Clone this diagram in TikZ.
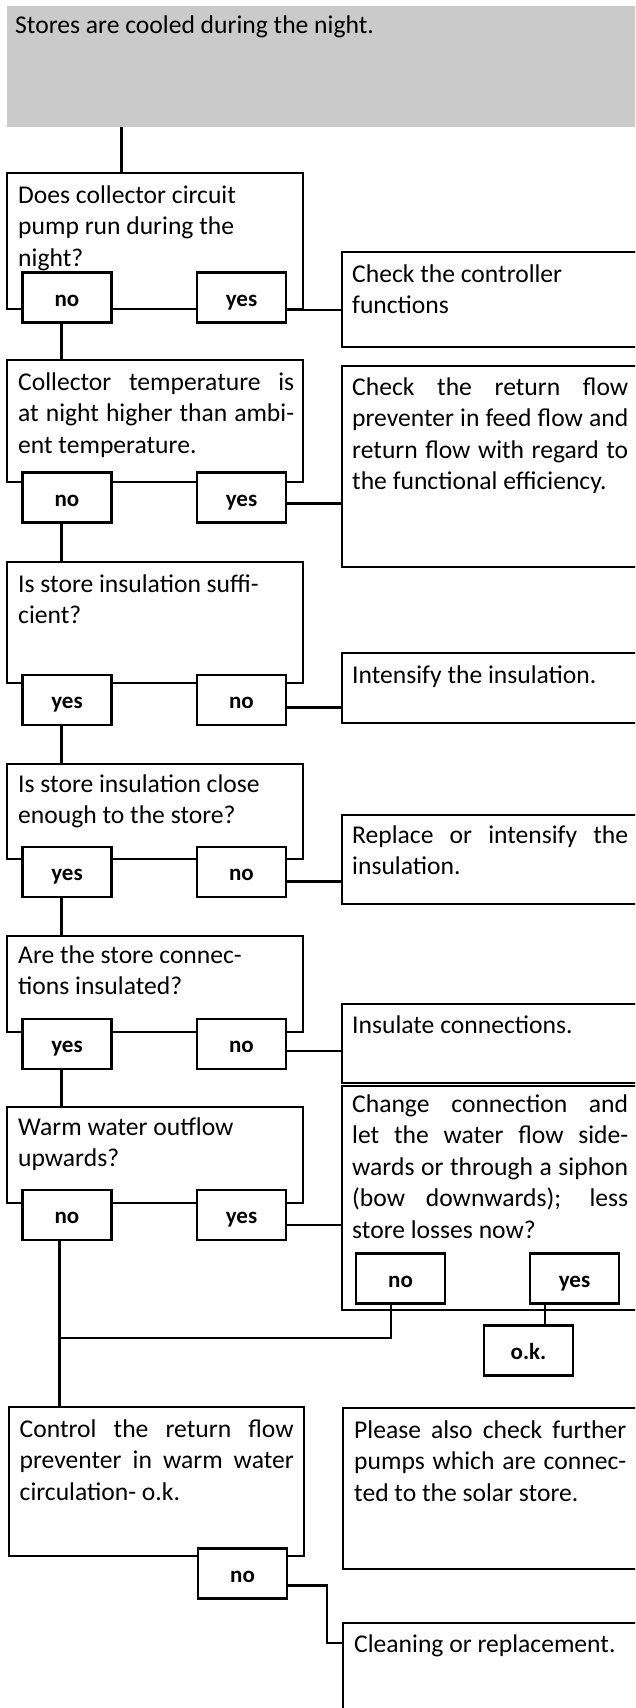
\documentclass[tikz,border=0pt]{standalone}
\usepackage{fontspec}
\setmainfont{Carlito}
\usetikzlibrary{fit}
\definecolor{hdrgray}{RGB}{202,202,202}
\newcommand\JL[2][276pt]{\makebox[#1][s]{#2}}
\newcommand\RL[1]{\mbox{#1}}
\newcommand\bodyfont{\fontsize{25.6}{31.5}\selectfont}
\newcommand\labfont{\fontsize{23}{26}\selectfont\bfseries}
\newcommand\tb[2][276pt]{\parbox[t]{#1}{#2}}
\begin{document}
\begin{tikzpicture}[x=1pt,y=-1pt,
  frame/.style={draw, line width=2.7pt, inner sep=0pt, rectangle},
  lab/.style={draw, fill=white, line width=2.7pt, inner sep=0pt, minimum width=89pt, minimum height=50pt, text height=17pt, text depth=0pt, font=\labfont},
  txt/.style={anchor=base west, inner sep=0pt, font=\bodyfont},
  conn/.style={line width=2.7pt},
]
\useasboundingbox (0,0) rectangle (635,1708);
\clip (0,0) rectangle (635,1708);

% header
\node[fill=hdrgray, inner sep=0pt, fit={(7,6)(645,127)}] (g) {};
\node[txt] (gt) at (15,33) {Stores are cooled during the night.};

% question frames
\node[frame, fit={(7,173)(303,309)}] (q1) {};
\node[frame, fit={(7,360)(303,482)}] (q2) {};
\node[frame, fit={(7,562)(303,683)}] (q3) {};
\node[frame, fit={(7,764)(303,859)}] (q4) {};
\node[frame, fit={(7,936)(303,1032)}] (q5) {};
\node[frame, fit={(7,1107)(303,1203)}] (q6) {};
\node[frame, fit={(9,1407)(304,1556)}] (q7) {};

% action frames
\node[frame, fit={(342,252)(645,347)}] (a1) {};
\node[frame, fit={(342,366)(645,567)}] (a2) {};
\node[frame, fit={(342,653)(645,723)}] (a3) {};
\node[frame, fit={(342,815)(645,904)}] (a4) {};
\node[frame, fit={(342,1004)(645,1083)}] (a5) {};
\node[frame, fit={(342,1086)(645,1310)}] (a6) {};
\node[frame, fit={(343,1408)(645,1569)}] (a7) {};
\node[frame, fit={(343,1623)(645,1730)}] (a8) {};

% texts
\node[txt] (q1t) at (18,203) {\tb{\RL{Does collector circuit}\\\RL{pump run during the}\\\RL{night?}}};
\node[txt] (q2t) at (18,390) {\tb{\JL{Collector temperature is}\\\JL{at night higher than ambi-}\\\RL{ent temperature.}}};
\node[txt] (q3t) at (18,592) {\tb{\RL{Is store insulation suffi-}\\\RL{cient?}}};
\node[txt] (q4t) at (18,792) {\tb{\RL{Is store insulation close}\\\RL{enough to the store?}}};
\node[txt] (q5t) at (18,963) {\tb{\RL{Are the store connec-}\\\RL{tions insulated?}}};
\node[txt] (q6t) at (18,1135) {\tb{\RL{Warm water outflow}\\\RL{upwards?}}};
\node[txt] (q7t) at (19.5,1437) {\tb{\JL[274pt]{Control the return flow}\\\JL[274pt]{preventer in warm water}\\\RL{circulation- o.k.}}};

\node[txt] (a1t) at (352,282) {\tb{\RL{Check the controller}\\\RL{functions}}};
\node[txt] (a2t) at (352,395) {\tb{\JL{Check the return flow}\\\JL{preventer in feed flow and}\\\JL{return flow with regard to}\\\RL{the functional efficiency.}}};
\node[txt] (a3t) at (352,683) {Intensify the insulation.};
\node[txt] (a4t) at (352,843) {\tb{\JL{Replace or intensify the}\\\RL{insulation.}}};
\node[txt] (a5t) at (352,1033) {Insulate connections.};
\node[txt] (a6t) at (352,1112) {\tb{\JL{Change connection and}\\\JL{let the water flow side-}\\\JL{wards or through a siphon}\\\JL{(bow downwards); less}\\\RL{store losses now?}}};
\node[txt] (a7t) at (354,1438) {\tb[272pt]{\JL[272pt]{Please also check further}\\\JL[272pt]{pumps which are connec-}\\\RL{ted to the solar store.}}};
\node[txt] (a8t) at (354,1652) {Cleaning or replacement.};

% answer labels
\node[lab] (q1no)  at (67,297.5) {no};
\node[lab] (q1yes) at (241.5,297.5) {yes};
\node[lab] (q2no)  at (67,497.5) {no};
\node[lab] (q2yes) at (241.5,497.5) {yes};
\node[lab] (q3yes) at (67,700) {yes};
\node[lab] (q3no)  at (241.5,700) {no};
\node[lab] (q4yes) at (67,872) {yes};
\node[lab] (q4no)  at (241.5,872) {no};
\node[lab] (q5yes) at (67,1044) {yes};
\node[lab] (q5no)  at (241.5,1044) {no};
\node[lab] (q6no)  at (67,1215) {no};
\node[lab] (q6yes) at (241.5,1215) {yes};
\node[lab] (q7no)  at (242.5,1573.5) {no};
\node[lab] (a6no)  at (400.5,1278.5) {no};
\node[lab] (a6yes) at (574.5,1278.5) {yes};
\node[lab] (ok)    at (528.5,1350.5) {o.k.};

% connector guide coordinates
\coordinate (cx0) at (121.5,0);
\coordinate (cx1) at (61.5,0);
\coordinate (cxq) at (59.5,0);
\coordinate (cx6) at (391,0);
\coordinate (cxo) at (545,0);
\coordinate (cx7) at (327,0);
\coordinate (y1) at (0,310);
\coordinate (y2) at (0,503.3);
\coordinate (y3) at (0,707.7);
\coordinate (y4) at (0,881.7);
\coordinate (y5) at (0,1051);
\coordinate (y6) at (0,1225);
\coordinate (y7) at (0,1585.7);
\coordinate (y8) at (0,1643);
\coordinate (yj) at (0,1338);

% main chain
\draw[conn] (g.south -| cx0) -- (q1.north -| cx0);
\draw[conn] (q1no.south -| cx1) -- (q2.north -| cx1);
\draw[conn] (q2no.south -| cx1) -- (q3.north -| cx1);
\draw[conn] (q3yes.south -| cx1) -- (q4.north -| cx1);
\draw[conn] (q4yes.south -| cx1) -- (q5.north -| cx1);
\draw[conn] (q5yes.south -| cx1) -- (q6.north -| cx1);
\draw[conn] (q6no.south -| cxq) -- (q7.north -| cxq);

% branches to actions
\draw[conn] (q1yes.east |- y1) -- (a1.west |- y1);
\draw[conn] (q2yes.east |- y2) -- (a2.west |- y2);
\draw[conn] (q3no.east |- y3) -- (a3.west |- y3);
\draw[conn] (q4no.east |- y4) -- (a4.west |- y4);
\draw[conn] (q5no.east |- y5) -- (a5.west |- y5);
\draw[conn] (q6yes.east |- y6) -- (a6.west |- y6);
\draw[conn] (a6no.south -| cx6) -- (cx6 |- yj) -- (cxq |- yj);
\draw[conn] (a6yes.south -| cxo) -- (ok.north -| cxo);
\draw[conn] (q7no.east |- y7) -- (cx7 |- y7) -- (cx7 |- y8) -- (a8.west |- y8);
\end{tikzpicture}
\end{document}
